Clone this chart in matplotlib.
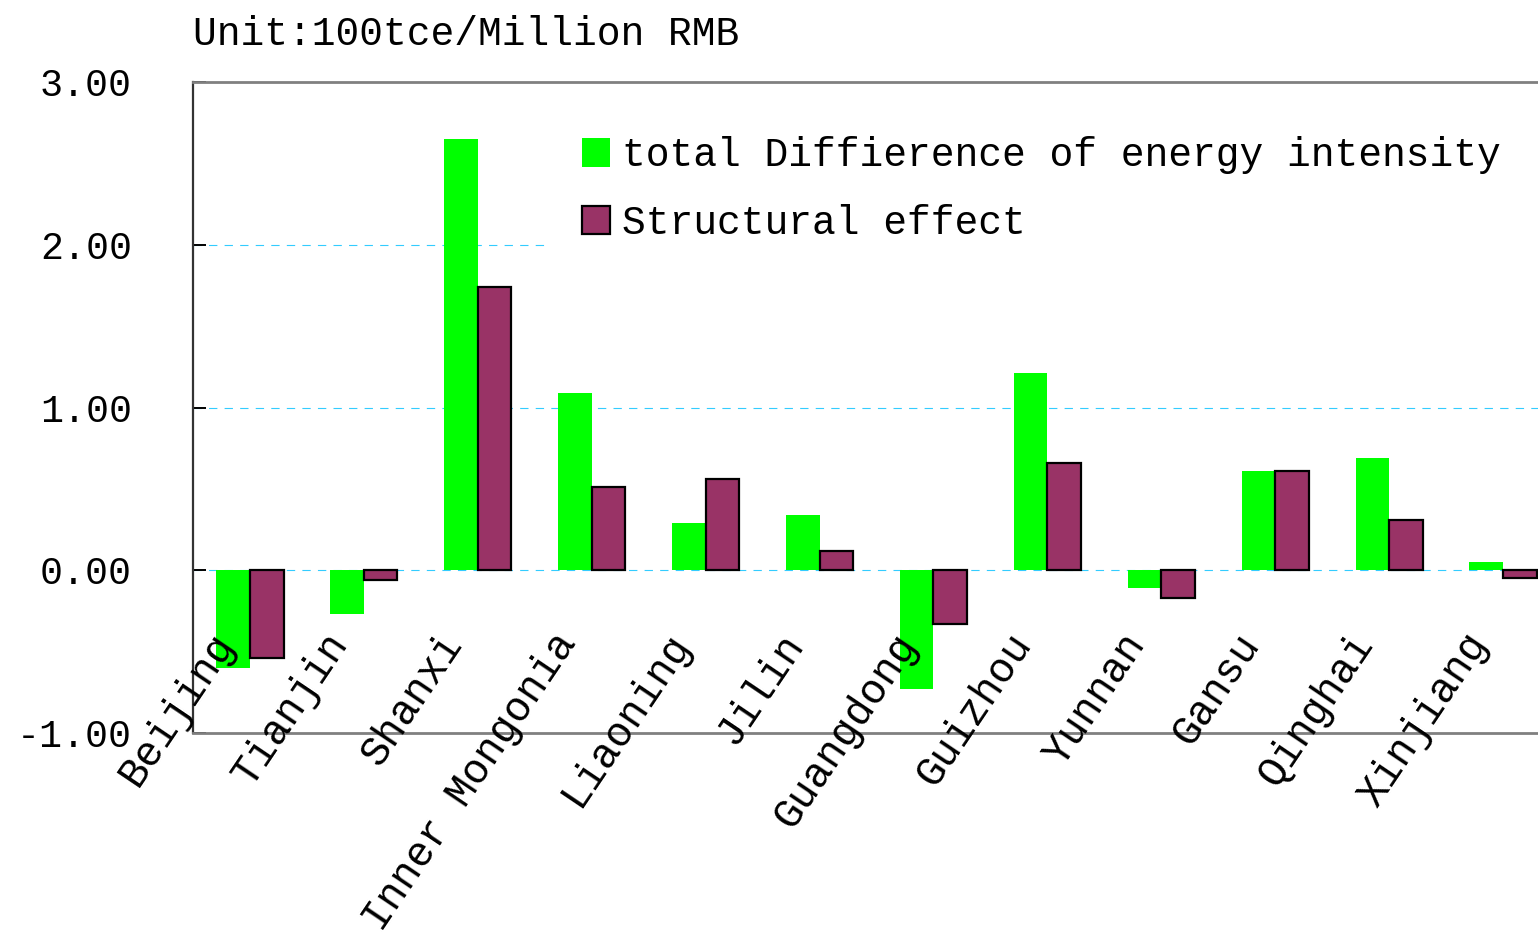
import numpy as np
import matplotlib
matplotlib.use("Agg")
import matplotlib.pyplot as plt
from matplotlib.transforms import offset_copy

plt.rcParams['font.family'] = ['Liberation Mono', 'DejaVu Sans']

# provinces and the two series (100tce / million RMB)
provinces = ["Beijing", "Tianjin", "Shanxi", "Inner Mongonia", "Liaoning", "Jilin",
             "Guangdong", "Guizhou", "Yunnan", "Gansu", "Qinghai", "Xinjiang"]
total_diff = [-0.60, -0.27, 2.65, 1.09, 0.29, 0.34, -0.73, 1.21, -0.11, 0.61, 0.69, 0.05]
structural = [-0.54, -0.06, 1.74, 0.51, 0.56, 0.12, -0.33, 0.66, -0.17, 0.61, 0.31, -0.05]
yticks = [-1, 0, 1, 2, 3]

W, H = 1538, 941
fig = plt.figure(figsize=(W / 100, H / 100), dpi=100)
ax = fig.add_axes([193 / W, (H - 733) / H, (1560 - 193) / W, (733 - 82) / H])

x = np.arange(len(provinces))
bw = 0.295
ax.bar(x - bw / 2, total_diff, bw, color='#00FF00', linewidth=0,
       label='total Diffierence of energy intensity', zorder=2)
ax.bar(x + bw / 2, structural, bw, color='#993366', edgecolor='black', linewidth=1.6,
       label='Structural effect', zorder=3)

ax.set_xlim(-0.5, len(provinces) - 0.5)
ax.set_ylim(-1, 3)
ax.set_yticks(yticks)
ax.set_yticklabels(['%.2f' % v for v in yticks], fontsize=27.5)
ax.tick_params(axis='y', direction='in', length=9.5, width=1.4, color='black', pad=44)
ax.set_xticks([])

# dashed guide lines at 0, 1 and 2
for v in [0, 1, 2]:
    ax.axhline(v, color='#33CCFF', linewidth=0.8, dashes=(7.5, 6.5), zorder=1)

for side in ['top', 'bottom']:
    ax.spines[side].set_color('#808080')
    ax.spines[side].set_linewidth(2)
ax.spines['left'].set_color('#333333')
ax.spines['left'].set_linewidth(1.6)
ax.spines['right'].set_visible(False)

# rotated province names sitting just above the bottom axis
trans = offset_copy(ax.get_xaxis_transform(), fig=fig, x=-24, y=96, units='dots')
for i, name in enumerate(provinces):
    ax.text(i, 0, name, transform=trans, rotation=56, rotation_mode='anchor',
            ha='right', va='center', fontsize=30)

# white legend box stretched to the right edge, hiding the 2.00 line behind it
leg = ax.legend(loc='upper left', bbox_to_anchor=(550 / W, 1 - 114 / H, (1560 - 550) / W, 0.01),
                bbox_transform=fig.transFigure, mode='expand', fontsize=28.5, frameon=True,
                fancybox=False, edgecolor='white', facecolor='white', framealpha=1,
                handlelength=0.72, handleheight=0.72, handletextpad=0.3,
                labelspacing=0.74, borderpad=0.8, borderaxespad=0)

fig.text(193 / W, 1 - 45 / H, 'Unit:100tce/Million RMB', fontsize=28.5, va='baseline')

fig.savefig('out.png', dpi=100)
